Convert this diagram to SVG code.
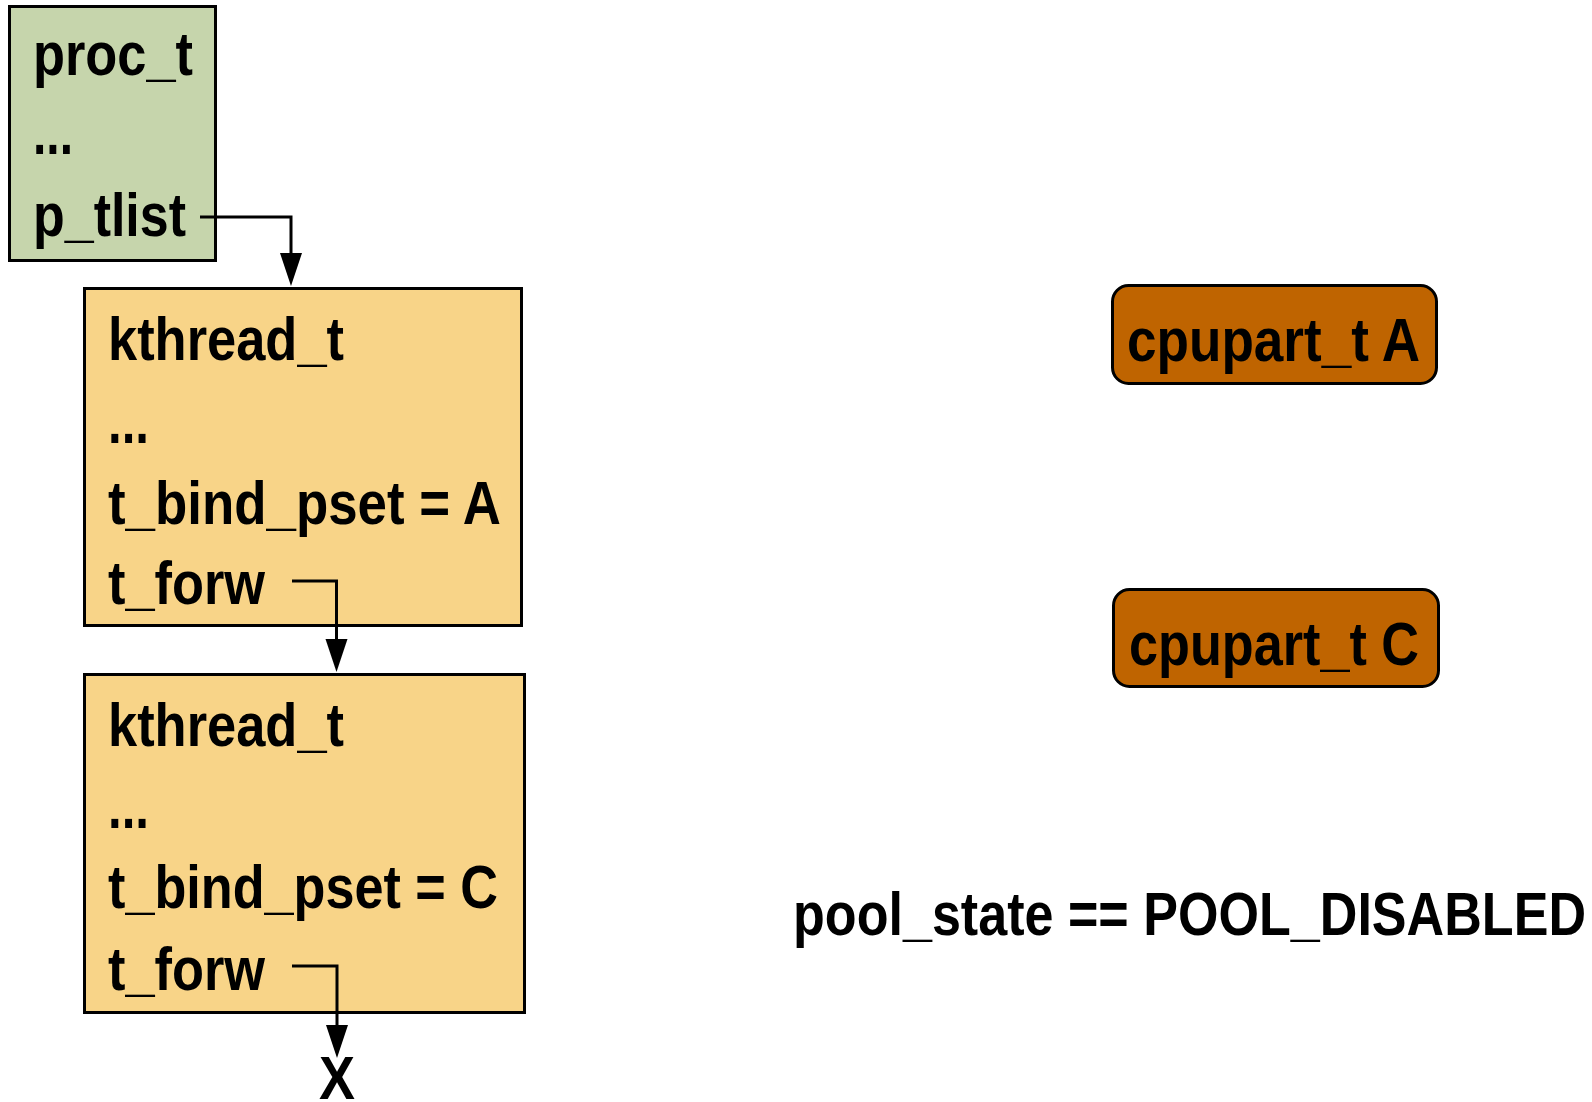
<svg xmlns="http://www.w3.org/2000/svg" width="1592" height="1102" viewBox="0 0 1592 1102">
  <style>
    .box { stroke: #000; stroke-width: 3; }
    .proc { fill: #C6D5AC; }
    .kthr { fill: #F8D488; }
    .cpu { fill: #BF6400; }
    .lbl { font-family: "Liberation Sans Narrow", "Liberation Sans", "DejaVu Sans Condensed", sans-serif; font-weight: bold; font-size: 61px; fill: #000; }
    .wire { fill: none; stroke: #000; stroke-width: 3; marker-end: url(#head); }
  </style>
  <defs>
    <marker id="head" markerUnits="userSpaceOnUse" viewBox="0 -12 34 24" refX="0" refY="0" markerWidth="34" markerHeight="24" orient="auto">
      <path d="M0,-11 L33,0 L0,11 Z" fill="#000"/>
    </marker>
  </defs>

  <rect width="1592" height="1102" fill="#fff"/>

  <!-- process structure -->
  <g id="proc_t">
    <rect class="box proc" x="9.5" y="6.5" width="206" height="254"/>
    <text class="lbl" x="33" y="75" textLength="160" lengthAdjust="spacingAndGlyphs">proc_t</text>
    <text class="lbl" x="33" y="154" textLength="40" lengthAdjust="spacingAndGlyphs">...</text>
    <text class="lbl" x="33" y="236" textLength="153" lengthAdjust="spacingAndGlyphs">p_tlist</text>
  </g>

  <!-- first thread -->
  <g id="kthread_a">
    <rect class="box kthr" x="84.5" y="288.5" width="437" height="337"/>
    <text class="lbl" x="108" y="360" textLength="236" lengthAdjust="spacingAndGlyphs">kthread_t</text>
    <text class="lbl" x="108" y="443" textLength="41" lengthAdjust="spacingAndGlyphs">...</text>
    <text class="lbl" x="108" y="524" textLength="393" lengthAdjust="spacingAndGlyphs">t_bind_pset = A</text>
    <text class="lbl" x="108" y="604" textLength="157" lengthAdjust="spacingAndGlyphs">t_forw</text>
  </g>

  <!-- second thread -->
  <g id="kthread_c">
    <rect class="box kthr" x="84.5" y="674.5" width="440" height="338"/>
    <text class="lbl" x="108" y="746" textLength="236" lengthAdjust="spacingAndGlyphs">kthread_t</text>
    <text class="lbl" x="108" y="828" textLength="41" lengthAdjust="spacingAndGlyphs">...</text>
    <text class="lbl" x="108" y="908" textLength="390" lengthAdjust="spacingAndGlyphs">t_bind_pset = C</text>
    <text class="lbl" x="108" y="990" textLength="157" lengthAdjust="spacingAndGlyphs">t_forw</text>
  </g>

  <!-- list terminator -->
  <g id="terminator">
    <text class="lbl" x="319" y="1099" textLength="36" lengthAdjust="spacingAndGlyphs">X</text>
  </g>

  <!-- processor partitions -->
  <g id="cpupart_a">
    <rect class="box cpu" x="1112.5" y="285.5" width="324" height="98" rx="16"/>
    <text class="lbl" x="1127" y="361" textLength="293" lengthAdjust="spacingAndGlyphs">cpupart_t A</text>
  </g>
  <g id="cpupart_c">
    <rect class="box cpu" x="1113.5" y="589.5" width="325" height="97" rx="16"/>
    <text class="lbl" x="1129" y="665" textLength="290" lengthAdjust="spacingAndGlyphs">cpupart_t C</text>
  </g>

  <!-- pool state note -->
  <g id="pool_state">
    <text class="lbl" x="793" y="935" textLength="793" lengthAdjust="spacingAndGlyphs">pool_state == POOL_DISABLED</text>
  </g>

  <!-- pointers -->
  <g id="connectors">
    <path class="wire" d="M200,217 H291 V253"/>
    <path class="wire" d="M292,581 H336.5 V639"/>
    <path class="wire" d="M292,966 H337 V1025"/>
  </g>
</svg>
